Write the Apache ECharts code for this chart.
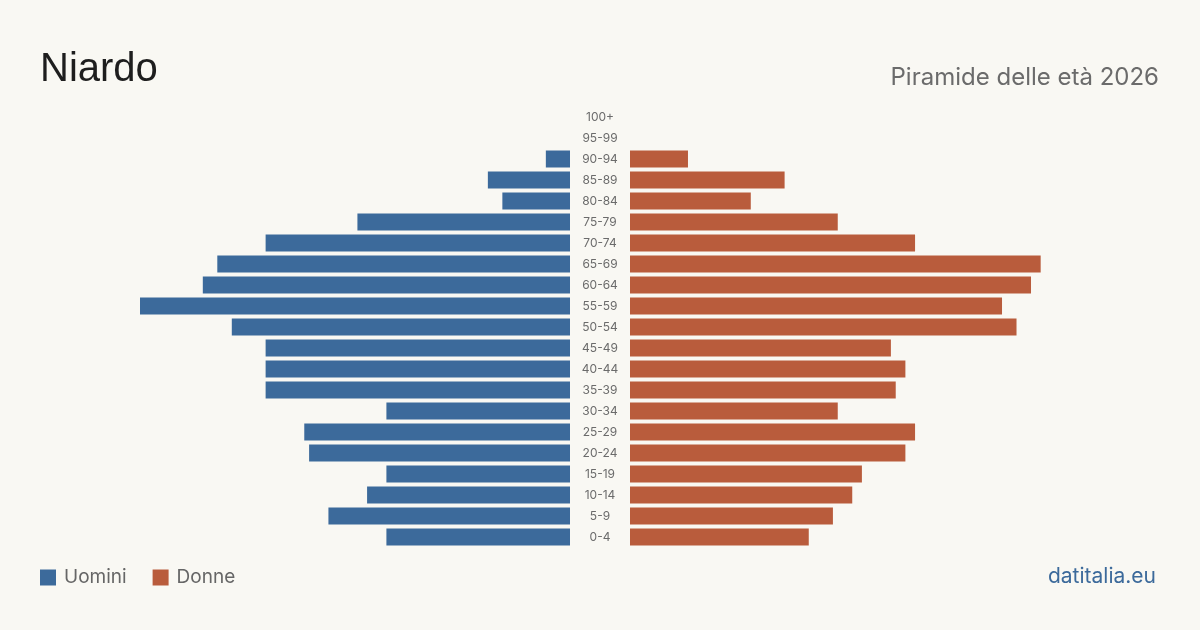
<!DOCTYPE html>
<html><head><meta charset="utf-8">
<script src="https://cdn.jsdelivr.net/npm/echarts@6/dist/echarts.min.js"></script>
<style>html,body{margin:0;padding:0;background:#f9f8f3}#c{width:1200px;height:630px}</style>
</head><body><div id="c"></div>
<script>
const categories = ['0-4','5-9','10-14','15-19','20-24','25-29','30-34','35-39','40-44','45-49','50-54','55-59','60-64','65-69','70-74','75-79','80-84','85-89','90-94','95-99','100+'];
const uomini = [38,50,42,38,54,55,38,63,63,63,70,89,76,73,63,44,14,17,5,0,0];
const donne  = [37,42,46,48,57,59,43,55,57,54,80,77,83,85,59,43,25,32,12,0,0];
const maxVal = 89;
const blue = '#3c6a9b', orange = '#b95c3c';
const chart = echarts.init(document.getElementById('c'));
chart.setOption({
  backgroundColor: '#f9f8f3',
  animation: false,
  title: [
    {text:'Niardo', left:35, top:45, textStyle:{fontFamily:'Liberation Sans', fontSize:40, fontWeight:'normal', color:'#1e1e1e'}},
    {text:'Piramide delle età 2026', right:36, top:61, textStyle:{fontFamily:'Inter', fontSize:24, fontWeight:'normal', color:'#6b6b6b'}},
    {text:'datitalia.eu', right:39, top:561, textStyle:{fontFamily:'Inter', fontSize:21, fontWeight:'normal', color:'#3c6a9b'}}
  ],
  legend: {left:35, top:563, itemWidth:16, itemHeight:16, itemGap:26, icon:'rect',
    textStyle:{fontFamily:'Inter', fontSize:19, color:'#666', padding:[0,0,0,3]},
    data:['Uomini','Donne']},
  grid: [
    {left:140, width:430, top:106.5, height:441},
    {left:630, width:430, top:106.5, height:441}
  ],
  xAxis: [
    {gridIndex:0, type:'value', inverse:true, min:0, max:maxVal, show:false},
    {gridIndex:1, type:'value', min:0, max:maxVal, show:false}
  ],
  yAxis: [
    {gridIndex:0, type:'category', data:categories, position:'right',
     axisLine:{show:false}, axisTick:{show:false},
     axisLabel:{align:'center', margin:30, fontFamily:'Inter', fontSize:12, color:'#6b6b6b'}},
    {gridIndex:1, type:'category', data:categories, show:false}
  ],
  series: [
    {name:'Uomini', type:'bar', xAxisIndex:0, yAxisIndex:0, data:uomini, barWidth:17, itemStyle:{color:blue}},
    {name:'Donne', type:'bar', xAxisIndex:1, yAxisIndex:1, data:donne, barWidth:17, itemStyle:{color:orange}}
  ]
});
</script></body></html>
